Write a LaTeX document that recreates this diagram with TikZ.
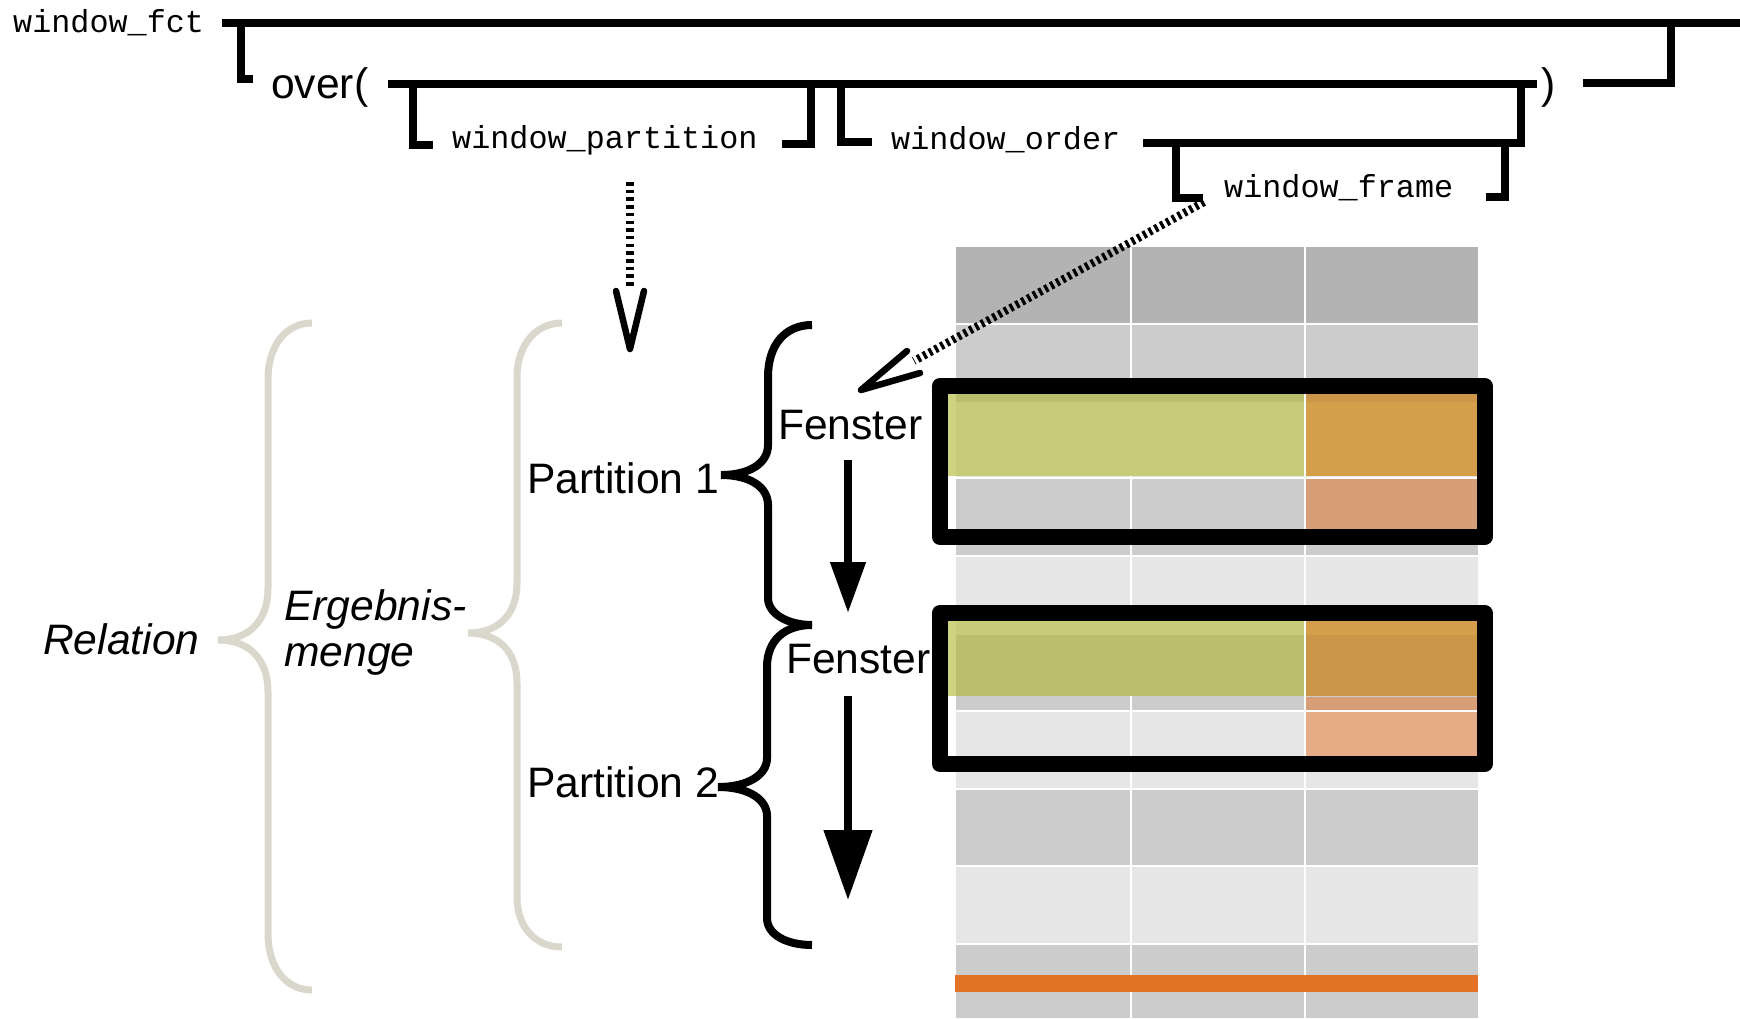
\documentclass[tikz,border=0pt]{standalone}
\usepackage{fontspec}
\setmainfont{Liberation Sans}
\newfontfamily\monof{Liberation Mono}
\usetikzlibrary{arrows.meta}
\definecolor{hdr}{HTML}{B3B3B3}
\definecolor{rowA}{HTML}{CCCCCC}
\definecolor{rowB}{HTML}{E6E6E6}
\definecolor{grnW}{HTML}{CFD37F}
\definecolor{grnB}{HTML}{C8CB78}
\definecolor{grnA}{HTML}{BBBE6C}
\definecolor{orgB}{HTML}{D49E4A}
\definecolor{orgA}{HTML}{CB9647}
\definecolor{salA}{HTML}{D89E78}
\definecolor{salB}{HTML}{E5AC86}
\definecolor{barO}{HTML}{E37326}
\definecolor{brgray}{HTML}{DAD8CC}
\begin{document}
\begin{tikzpicture}[x=1pt,y=-1pt,
  syn/.style={line width=7.5pt},
  mono/.style={font=\monof\fontsize{31.8}{36}\selectfont, inner sep=0pt, anchor=base west},
  lbl/.style={font=\fontsize{42.6}{48}\selectfont, inner sep=0pt, anchor=base west},
  ilbl/.style={font=\itshape\fontsize{42.6}{48}\selectfont, inner sep=0pt, anchor=base west},
  gbrace/.style={draw=brgray, line width=7pt},
  bbrace/.style={draw=black, line width=8pt},
  winbox/.style={draw=black, line width=16pt, line join=round},
  gridline/.style={draw=white, line width=2pt},
  dotv/.style={line width=8pt, dash pattern=on 3.5pt off 4.2pt},
  dotd/.style={line width=8pt, dash pattern=on 3.2pt off 3.4pt},
  vhead/.style={line width=6.5pt, line cap=round, line join=round},
  downarrow/.style={line width=8pt}
]
\useasboundingbox (0,0) rectangle (1740,1018);

% ---------- table ----------
\foreach \ya/\yb/\c in {247/324/hdr, 324/402/rowA, 402/478/rowB, 478/556/rowA,
  556/635/rowB, 635/711/rowA, 711/789/rowB, 789/866/rowA, 866/944/rowB, 944/1018/rowA}
  \fill[\c] (956,\ya) rectangle (1478,\yb);
\foreach \y in {324,402,478,556,635,711,789,866,944}
  \draw[gridline] (956,\y) -- (1478,\y);
\foreach \x in {1130.5,1304.5}
  \draw[gridline] (\x,247) -- (\x,1018);

% window 1 overlays
\fill[grnW] (948,394) rectangle (956,476);
\fill[grnA] (956,394) rectangle (1303.5,402);
\fill[grnB] (956,402) rectangle (1303.5,476);
\fill[orgA] (1305.5,394) rectangle (1478,402);
\fill[orgB] (1305.5,402) rectangle (1478,476);
\fill[salA] (1305.5,479) rectangle (1478,529);
% window 2 overlays
\fill[grnW] (948,621) rectangle (956,696);
\fill[grnB] (956,621) rectangle (1303.5,635);
\fill[grnA] (956,635) rectangle (1303.5,696);
\fill[orgB] (1305.5,621) rectangle (1478,635);
\fill[orgA] (1305.5,635) rectangle (1478,696);
\fill[salA] (1305.5,697) rectangle (1478,710);
\fill[salB] (1305.5,712) rectangle (1478,756);

\draw[winbox] (940,386) rectangle (1484.5,537);
\draw[winbox] (940,613) rectangle (1484.5,764);

\fill[barO] (955,975) rectangle (1478,992);

% ---------- braces ----------
\draw[gbrace] (312,323) .. controls (286,323) and (268,345) .. (268,380) -- (268,588)
  .. controls (268,622) and (248,640) .. (218,640)
  .. controls (248,640) and (268,658) .. (268,692) -- (268,933)
  .. controls (268,968) and (286,990) .. (312,990);
\draw[gbrace] (562,323) .. controls (536,323) and (517,345) .. (517,377) -- (517,583)
  .. controls (517,615) and (498,633) .. (468,633)
  .. controls (498,633) and (517,651) .. (517,683) -- (517,897)
  .. controls (517,928) and (536,947) .. (562,947);
\draw[bbrace] (812,325) .. controls (785,325) and (768,345) .. (768,377) -- (768,445)
  .. controls (768,463) and (750,475) .. (721,475)
  .. controls (750,475) and (768,487) .. (768,505) -- (768,598)
  .. controls (768,614) and (788,625) .. (812,625);
\draw[bbrace] (812,625) .. controls (785,625) and (767,640) .. (767,667) -- (767,758)
  .. controls (767,775) and (748,787) .. (718,787)
  .. controls (748,787) and (767,799) .. (767,816) -- (767,918)
  .. controls (767,935) and (787,945) .. (812,945);

% ---------- labels ----------
\node[mono] (wfct) at (13,32) {window\_fct};
\node[lbl] (over) at (271,98) {over(};
\node[lbl] (close) at (1541,98) {)};
\node[mono] (wpart) at (452,148) {window\_partition};
\node[mono] (word) at (891,149) {window\_order};
\node[mono] (wframe) at (1224,197) {window\_frame};
\node[ilbl] (rel) at (43,654) {Relation};
\node[ilbl] (erg1) at (284,620) {Ergebnis-};
\node[ilbl] (erg2) at (284,666) {menge};
\node[lbl] (p1) at (527,493) {Partition 1};
\node[lbl] (p2) at (527,797) {Partition 2};
\node[lbl] (f1) at (778,439) {Fenster};
\node[lbl] (f2) at (786,673) {Fenster};

% ---------- syntax diagram ----------
\draw[syn] (222,23) -- (1740,23);
\draw[syn] (241,23) -- (241,79) -- (253,79);
\draw[syn] (1583,83) -- (1671,83) -- (1671,23);
\draw[syn] (388,84) -- (1537,84);
\draw[syn] (413,84) -- (413,145) -- (433,145);
\draw[syn] (782,144) -- (811,144) -- (811,84);
\draw[syn] (841,84) -- (841,142) -- (872,142);
\draw[syn] (1143,143) -- (1521,143) -- (1521,84);
\draw[syn] (1176,143) -- (1176,198) -- (1203,198);
\draw[syn] (1486,197) -- (1505,197) -- (1505,143);

% ---------- arrows ----------
\coordinate (pS) at (630,182);
\coordinate (pE) at (630,287);
\coordinate (pT) at (630,349);
\draw[dotv] (pS) -- (pE);
\draw[vhead] (616,291) -- (pT) -- (644,291);

\coordinate (fS) at (1204,202);
\coordinate (fE) at (914,361);
\coordinate (fT) at (861,390);
\draw[dotd] (fS) -- (fE);
\draw[vhead] (907,351) -- (fT) -- (920,373);

\coordinate (a1s) at (848,460);
\coordinate (a1e) at (848,613);
\coordinate (a2s) at (848,696);
\coordinate (a2e) at (848,900);
\draw[downarrow, -{Triangle[length=51pt,width=34pt]}] (a1s) -- (a1e);
\draw[downarrow, -{Triangle[length=70pt,width=47pt]}] (a2s) -- (a2e);
\end{tikzpicture}
\end{document}
